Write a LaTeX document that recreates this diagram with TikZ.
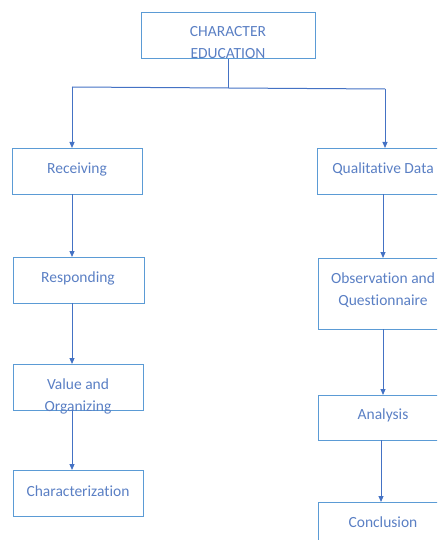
\documentclass[tikz,border=0pt]{standalone}
\usepackage{fontspec}
\setmainfont[RawFeature=-liga]{Carlito}
\usetikzlibrary{arrows.meta}
\definecolor{boxc}{HTML}{5B9BD5}
\definecolor{txtc}{HTML}{5A7FC4}
\definecolor{arrc}{HTML}{4472C4}
\begin{document}
\begin{tikzpicture}[x=1pt,y=-1pt,
  box/.style={draw=boxc,line width=0.9pt,minimum width=#1,minimum height=46pt,inner sep=0pt,anchor=north west},
  box/.default=130pt,
  lbl/.style={text=txtc,font=\fontsize{15.5}{22}\selectfont,align=center,inner sep=0pt},
  conn/.style={draw=arrc,line width=1pt,-{Triangle[length=6pt,width=5pt]}},
  plain/.style={draw=arrc,line width=1pt}]
\useasboundingbox (0,0) rectangle (437,540);
\clip (0,0) rectangle (437,540);
% top
\node[box=174pt] (top) at (141,12) {};
\node[lbl] (ttop) at (228,43) {CHARACTER\\EDUCATION};
% left column
\node[box] (rec) at (12,148) {};
\node[lbl] (trec) at (77,169) {Receiving};
\node[box=131pt] (res) at (13,257) {};
\node[lbl] (tres) at (78,278) {Responding};
\node[box] (val) at (13,364) {};
\node[lbl] (tval) at (78,396) {Value and\\Organizing};
\node[box] (cha) at (13,470) {};
\node[lbl] (tcha) at (78,491) {Characterization};
% right column
\node[box=133pt] (qual) at (317,148) {};
\node[lbl] (tqual) at (383,169) {Qualitative Data};
\node[box=133pt,minimum height=71pt] (obs) at (318,258) {};
\node[lbl] (tobs) at (383,290) {Observation and\\Questionnaire};
\node[box=133pt,minimum height=45pt] (ana) at (318,395) {};
\node[lbl] (tana) at (383,415) {Analysis};
\node[box=133pt] (con) at (318,502) {};
\node[lbl] (tcon) at (383,522) {Conclusion};
% connectors
\coordinate (j) at (228,88);
\coordinate (jl) at (72,87);
\coordinate (jr) at (385,89);
\draw[plain] (top.south -| j) -- (j);
\draw[plain] (jl) -- (jr);
\draw[conn] (jl) -- (jl |- rec.north);
\draw[conn] (jr) -- (jr |- qual.north);
\draw[conn] (72,194) -- (72,257);
\draw[conn] (72,303) -- (72,364);
\draw[conn] (72,410) -- (72,470);
\draw[conn] (383,194) -- (383,258);
\draw[conn] (383,329) -- (383,395);
\draw[conn] (381,440) -- (381,502);
\end{tikzpicture}
\end{document}
